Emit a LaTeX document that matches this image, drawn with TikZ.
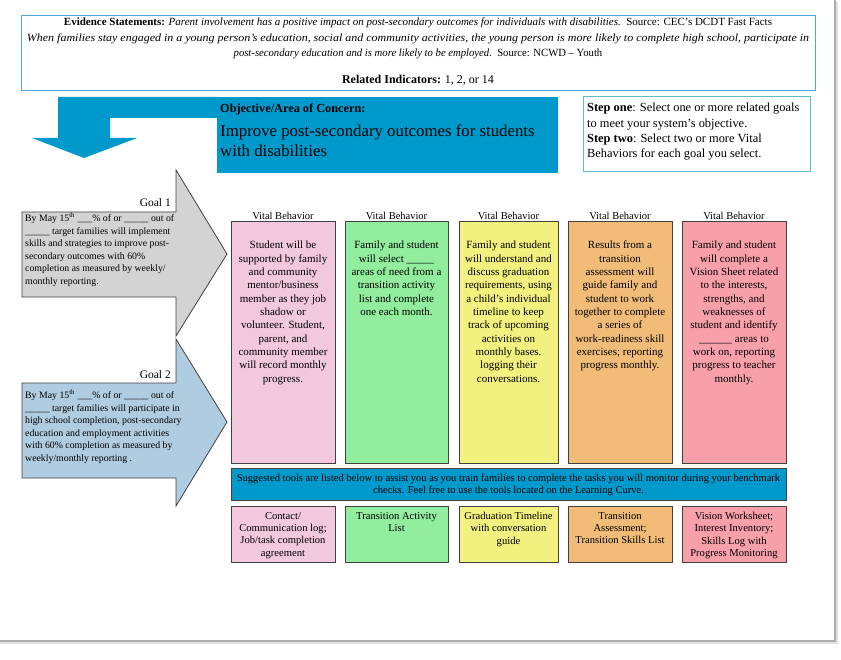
\documentclass[tikz,border=0pt]{standalone}
\usepackage{fontspec}
\setmainfont{Liberation Serif}
\definecolor{objblue}{HTML}{0099CC}
\definecolor{evborder}{HTML}{4DA8DA}
\definecolor{stepborder}{HTML}{5BBCD6}
\definecolor{goalgray}{HTML}{D3D3D3}
\definecolor{goalblue}{HTML}{B0CCE0}
\definecolor{cpink}{HTML}{F2C8DC}
\definecolor{cgreen}{HTML}{92EE9E}
\definecolor{cyellow}{HTML}{F2F07E}
\definecolor{corange}{HTML}{F0BC78}
\definecolor{csalmon}{HTML}{F8A0AA}
\definecolor{boxline}{HTML}{404040}
\begin{document}
\begin{tikzpicture}[x=1pt,y=-1pt,
  colbox/.style={draw=boxline, line width=0.8pt},
  coltext/.style={anchor=north, align=center, inner sep=0pt, font=\fontsize{11}{13.33}\selectfont},
  tooltext/.style={anchor=north, align=center, inner sep=0pt, font=\fontsize{10.6}{12.3}\selectfont},
  vblabel/.style={anchor=center, inner sep=0pt, font=\fontsize{10.5}{12}\selectfont},
  goaltext/.style={anchor=north west, align=left, inner sep=0pt, font=\fontsize{9.8}{12.6}\selectfont},
  goallabel/.style={anchor=east, inner sep=0pt, font=\fontsize{11.5}{13}\selectfont},
  arrowshape/.style={draw=boxline, line width=0.8pt}
]
\useasboundingbox (0,0) rectangle (841,660);
\fill[white] (0,0) rectangle (841,660);
% page shadow
\draw[gray!25, line width=1.5pt] (837,2) -- (837,643) -- (0,643);
\draw[gray!65, line width=1.5pt] (835,0) -- (835,641) -- (0,641);

% evidence box
\draw[evborder, line width=1pt] (21,16) rectangle (815,91);
\node[anchor=north, align=center, inner sep=0pt, font=\fontsize{11}{15.5}\selectfont] (ev) at (418,18)
 {\textbf{Evidence Statements:} \textit{Parent involvement has a positive impact on post-secondary outcomes for individuals with disabilities.}\ \ Source: CEC's DCDT Fast Facts\\
  \scalebox{1.09}[1]{\textit{When families stay engaged in a young person's education, social and community activities, the young person is more likely to complete high school, participate in}}\\
  \scalebox{0.97}[1]{\textit{post-secondary education and is more likely to be employed.}\ \ Source: NCWD -- Youth}};
\node[inner sep=0pt, font=\fontsize{12}{14}\selectfont] (rel) at (418,80) {\textbf{Related Indicators:} 1, 2, or 14};

% blue bent arrow and objective box
\fill[objblue] (218,97) -- (58,97) -- (58,138) -- (32,138) -- (84,158) -- (137,138) -- (110,138) -- (110,118) -- (218,118) -- cycle;
\fill[objblue] (217,97) rectangle (558,173);
\node[anchor=north west, inner sep=0pt, font=\fontsize{12.3}{14}\selectfont] (objt) at (220,103.5) {\textbf{Objective/Area of Concern:}};
\node[anchor=north west, align=left, inner sep=0pt, font=\fontsize{16.8}{20}\selectfont] (obj) at (220,124) {Improve post-secondary outcomes for students\\with disabilities};

% step box
\draw[stepborder, line width=1pt] (583,97) rectangle (810,172);
\node[anchor=north west, align=left, inner sep=0pt, font=\fontsize{12.4}{15.2}\selectfont] (steps) at (587,103)
 {\textbf{Step one}: Select one or more related goals\\to meet your system's objective.\\\textbf{Step two}: Select two or more Vital\\Behaviors for each goal you select.};

% goal arrows
\filldraw[fill=goalgray, arrowshape] (22,212) -- (176,212) -- (176,170) -- (227,254) -- (176,336) -- (176,297) -- (22,297) -- cycle;
\filldraw[fill=goalblue, arrowshape] (22,383) -- (176,383) -- (176,339) -- (227,422) -- (176,506) -- (176,478) -- (22,478) -- cycle;
\node[goallabel] (g1) at (171,203) {Goal 1};
\node[goallabel] (g2) at (171,375) {Goal 2};
\node[goaltext] (g1t) at (25,213)
 {By May 15\textsuperscript{th} \_\_\_\% of or \_\_\_\_\_ out of\\
  \_\_\_\_\_ target families will implement\\
  skills and strategies to improve post-\\
  secondary outcomes with 60\%\\
  completion as measured by weekly/\\
  monthly reporting.};
\node[goaltext] (g2t) at (25,390)
 {By May 15\textsuperscript{th} \_\_\_\% of or \_\_\_\_\_ out of\\
  \_\_\_\_\_ target families will participate in\\
  high school completion, post-secondary\\
  education and employment activities\\
  with 60\% completion as measured by\\
  weekly/monthly reporting .};

% vital behavior columns
\filldraw[fill=cpink, colbox]   (231,221) rectangle (335,463);
\filldraw[fill=cgreen, colbox]  (345,221) rectangle (448,463);
\filldraw[fill=cyellow, colbox] (459,221) rectangle (558,463);
\filldraw[fill=corange, colbox] (568,221) rectangle (672,463);
\filldraw[fill=csalmon, colbox] (682,221) rectangle (786,463);
\foreach \cx/\nm in {283/l1,396.5/l2,508.5/l3,620/l4,734/l5}
  \node[vblabel] (\nm) at (\cx,215.5) {Vital Behavior};

\node[coltext] (v1) at (283,241) {Student will be\\supported by family\\and community\\mentor/business\\member as they job\\shadow or\\volunteer. Student,\\parent, and\\community member\\will record monthly\\progress.};
\node[coltext] (v2) at (396.5,241) {Family and student\\will select \_\_\_\_\_\\areas of need from a\\transition activity\\list and complete\\one each month.};
\node[coltext] (v3) at (508.5,241) {Family and student\\will understand and\\discuss graduation\\requirements, using\\a child's individual\\timeline to keep\\track of upcoming\\activities on\\monthly bases.\\logging their\\conversations.};
\node[coltext] (v4) at (620,241) {Results from a\\transition\\assessment will\\guide family and\\student to work\\together to complete\\a series of\\work-readiness skill\\exercises; reporting\\progress monthly.};
\node[coltext] (v5) at (734,241) {Family and student\\will complete a\\Vision Sheet related\\to the interests,\\strengths, and\\weaknesses of\\student and identify\\\_\_\_\_\_\_ areas to\\work on, reporting\\progress to teacher\\monthly.};

% suggested tools bar
\filldraw[fill=objblue, colbox] (231,468) rectangle (786,500);
\node[align=center, inner sep=0pt, font=\fontsize{10.5}{12.6}\selectfont] (sug) at (508.5,485)
 {Suggested tools are listed below to assist you as you train families to complete the tasks you will monitor during your benchmark\\checks. Feel free to use the tools located on the Learning Curve.};

% tool boxes
\filldraw[fill=cpink, colbox]   (231,506) rectangle (335,562);
\filldraw[fill=cgreen, colbox]  (345,506) rectangle (448,562);
\filldraw[fill=cyellow, colbox] (459,506) rectangle (558,562);
\filldraw[fill=corange, colbox] (568,506) rectangle (672,562);
\filldraw[fill=csalmon, colbox] (682,506) rectangle (786,562);
\node[tooltext] (t1) at (283,512) {Contact/\\Communication log;\\Job/task completion\\agreement};
\node[tooltext] (t2) at (396.5,512) {Transition Activity\\List};
\node[tooltext] (t3) at (508.5,512) {Graduation Timeline\\with conversation\\guide};
\node[tooltext] (t4) at (620,512) {Transition\\Assessment;\\Transition Skills List};
\node[tooltext] (t5) at (734,512) {Vision Worksheet;\\Interest Inventory;\\Skills Log with\\Progress Monitoring};
\end{tikzpicture}
\end{document}
